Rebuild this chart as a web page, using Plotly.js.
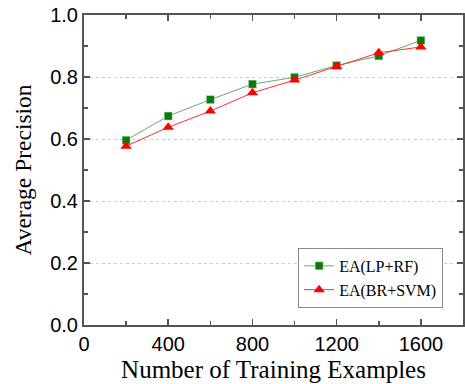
<!DOCTYPE html>
<html><head><meta charset="utf-8">
<script src="https://cdn.plot.ly/plotly-3.0.1.min.js"></script>
<style>body{margin:0;background:#fff}#c{width:465px;height:384px}</style>
</head><body><div id="c"></div>
<script>
const trainingSizes = [200, 400, 600, 800, 1000, 1200, 1400, 1600];
const eaLpRf = [0.596, 0.674, 0.727, 0.777, 0.799, 0.837, 0.868, 0.918];
const eaBrSvm = [0.577, 0.638, 0.690, 0.749, 0.790, 0.834, 0.878, 0.897];
const seriesNames = ['EA(LP+RF)', 'EA(BR+SVM)'];

const traces = [
  {x: trainingSizes, y: eaLpRf, name: seriesNames[0], mode: 'lines+markers', type: 'scatter',
   line: {color: '#6aaa6a', width: 1}, marker: {symbol: 'square', size: 8, color: '#0a7a0a', line: {color: '#c8e6c8', width: 0.5}}},
  {x: trainingSizes, y: eaBrSvm, name: seriesNames[1], mode: 'lines+markers', type: 'scatter',
   line: {color: '#ff3030', width: 1}, marker: {symbol: 'triangle-up', size: 10, color: '#ff0000'}}
];
const axisCommon = {showline: true, linecolor: '#555', linewidth: 2, mirror: 'allticks',
  ticks: 'inside', ticklen: 6, tickwidth: 1.5, tickcolor: '#555', zeroline: false,
  tickfont: {family: 'Liberation Sans, Arial, sans-serif', size: 20, color: '#000'}};
const layout = {
  width: 465, height: 384, margin: {l: 84, r: 2, t: 15, b: 59},
  paper_bgcolor: '#fff', plot_bgcolor: '#fff', showlegend: true,
  xaxis: Object.assign({}, axisCommon, {range: [0, 1800], tickvals: [0, 400, 800, 1200, 1600], showgrid: false,
    minor: {tickvals: [200, 600, 1000, 1400], ticks: 'inside', ticklen: 4, tickcolor: '#555'},
    title: {text: 'Number of Training Examples', standoff: 6, font: {family: 'Liberation Serif, Times New Roman, serif', size: 25, color: '#000'}}}),
  yaxis: Object.assign({}, axisCommon, {range: [0, 1.0], tickvals: [0, 0.2, 0.4, 0.6, 0.8, 1.0], ticktext: ['0.0','0.2','0.4','0.6','0.8','1.0'],
    showgrid: true, gridcolor: '#cccccc', griddash: 'dot', gridwidth: 1,
    minor: {tickvals: [0.1, 0.3, 0.5, 0.7, 0.9], ticks: 'inside', ticklen: 4, tickcolor: '#555', showgrid: false},
    title: {text: 'Average Precision', standoff: 12, font: {family: 'Liberation Serif, Times New Roman, serif', size: 23.5, color: '#000'}}}),
  legend: {x: 0.565, y: 0.055, xanchor: 'left', yanchor: 'bottom', bgcolor: '#fff', bordercolor: '#888', borderwidth: 1,
    itemwidth: 30, font: {family: 'Liberation Serif, Times New Roman, serif', size: 16, color: '#000'}, tracegroupgap: 0}
};
Plotly.newPlot('c', traces, layout, {displayModeBar: false, staticPlot: true});
</script></body></html>
